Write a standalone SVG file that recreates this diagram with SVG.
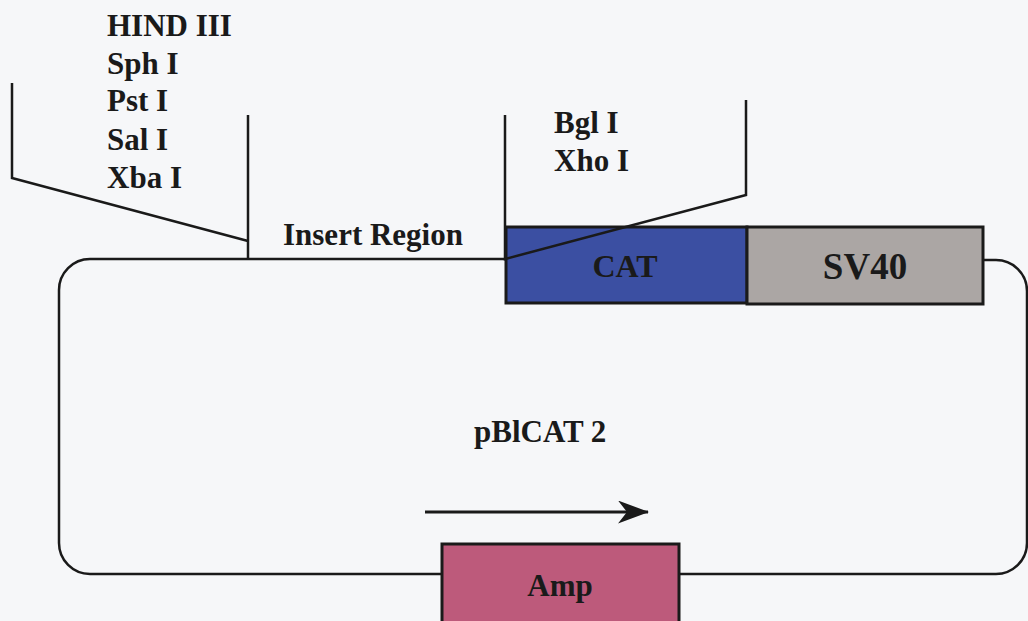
<svg xmlns="http://www.w3.org/2000/svg" width="1028" height="621" viewBox="0 0 1028 621">
<defs>
<style>
.t{font-family:"Liberation Serif","Times New Roman",serif;font-weight:bold;font-size:31px;fill:#1a1a1a}
.ln{fill:none;stroke:#1a1a1a;stroke-width:2.5}
.box{stroke:#1a1a1a;stroke-width:3}
</style>
<marker id="ah" markerWidth="31" markerHeight="23" refX="30" refY="11.5" orient="auto" markerUnits="userSpaceOnUse" viewBox="0 0 31 23">
<path d="M0,0 L31,11.5 L0,23 L9,11.5 Z" fill="#1a1a1a"/>
</marker>
</defs>
<rect width="1028" height="621" fill="#f6f7f9"/>
<g id="connectors">
<path class="ln" d="M506,259 H90 A31,31 0 0 0 59,290 V543 A31,31 0 0 0 90,574 H442"/>
<path class="ln" d="M679,574 H996 A31,31 0 0 0 1027,543 V291 A31,31 0 0 0 996,260 H983"/>
<path class="ln" d="M12,83 V178 L248,241"/>
<path class="ln" d="M248,115 V259"/>
<line class="ln" x1="425" y1="512" x2="648" y2="512" marker-end="url(#ah)" style="stroke-width:3"/>
</g>
<g id="cat"><rect class="box" x="506" y="227" width="241" height="76" fill="#3b4fa2"/><text class="t" x="625" y="277" text-anchor="middle" style="font-size:32px">CAT</text></g>
<g id="sv40"><rect class="box" x="747" y="227" width="236" height="77" fill="#aba6a4"/><text class="t" x="865" y="279" text-anchor="middle" style="font-size:37px">SV40</text></g>
<g id="amp"><rect class="box" x="442" y="544" width="237" height="80" fill="#bd5a7b"/><text class="t" x="560" y="596" text-anchor="middle">Amp</text></g>
<g id="cut-lines"><path class="ln" d="M505,115 V259 L746,195 V100"/></g>
<g id="sites-left">
<text class="t" x="107" y="36">HIND III</text>
<text class="t" x="107" y="74">Sph I</text>
<text class="t" x="107" y="111">Pst I</text>
<text class="t" x="107" y="150">Sal I</text>
<text class="t" x="107" y="188">Xba I</text>
</g>
<g id="sites-right">
<text class="t" x="554" y="133">Bgl I</text>
<text class="t" x="554" y="171">Xho I</text>
</g>
<text class="t" x="283" y="245">Insert Region</text>
<text class="t" x="474" y="442">pBlCAT 2</text>
</svg>
